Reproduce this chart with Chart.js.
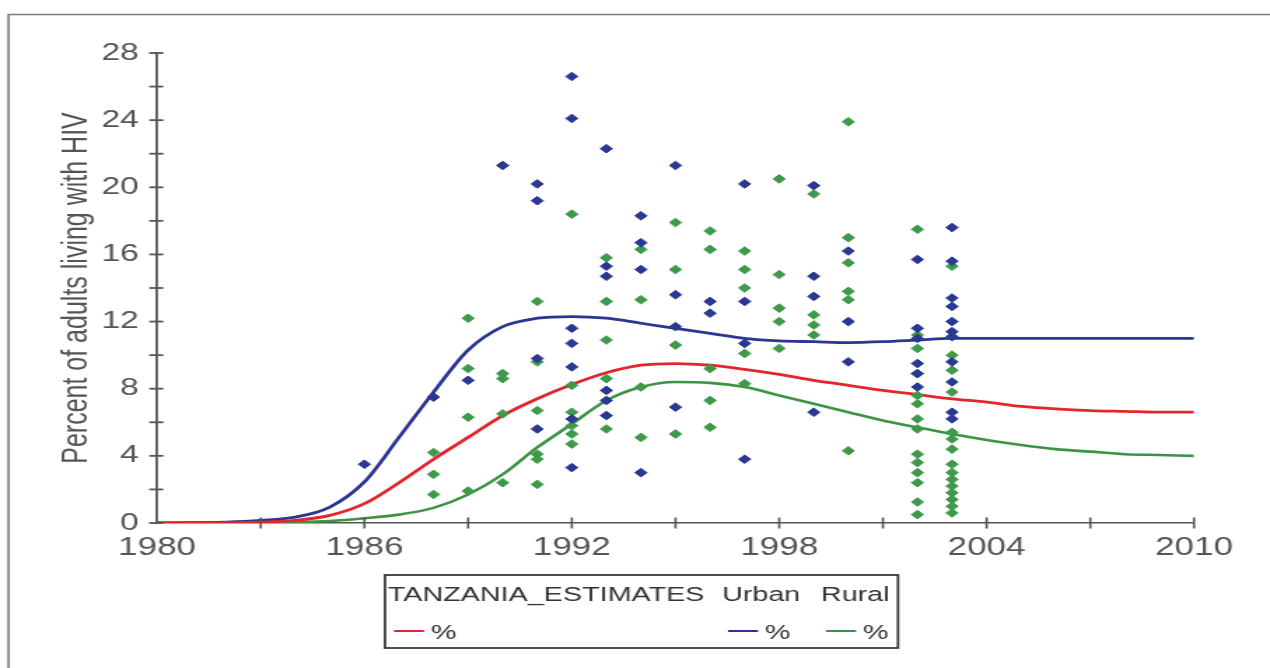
<!DOCTYPE html>
<html>
<head>
<meta charset="utf-8">
<script src="https://cdn.jsdelivr.net/npm/chart.js@4.4.1/dist/chart.umd.min.js"></script>
<style>
html,body{margin:0;padding:0;background:#fff;overflow:hidden}
canvas{display:block}
</style>
</head>
<body>
<canvas id="c" width="907" height="668" style="width:1270px;height:668px"></canvas>
<script>
// ---------- DATA ----------
const curveYears = [1980,1981,1982,1983,1984,1985,1986,1987,1988,1989,1990,1991,1992,1993,1994,1995,1996,1997,1998,1999,2000,2001,2002,2003,2004,2005,2006,2007,2008,2009,2010];
const estimatePct = [0,0,0.02,0.05,0.15,0.45,1.15,2.4,3.8,5.1,6.4,7.4,8.25,8.95,9.4,9.5,9.4,9.15,8.85,8.5,8.2,7.9,7.65,7.4,7.2,6.95,6.8,6.7,6.65,6.6,6.6];
const urbanPct    = [0,0.02,0.05,0.15,0.35,0.95,2.45,5.1,7.8,10.3,11.7,12.2,12.3,12.2,11.9,11.6,11.3,11.0,10.85,10.8,10.75,10.8,10.9,11.0,11.0,11.0,11.0,11.0,11.0,11.0,11.0];
const ruralPct    = [0,0,0,0.02,0.05,0.12,0.28,0.5,0.9,1.7,2.9,4.5,5.9,7.3,8.1,8.4,8.35,8.1,7.6,7.1,6.6,6.1,5.7,5.3,4.95,4.65,4.4,4.25,4.1,4.05,4.0];

const urbanObsYears = [1986,1988,1989,1990,1991,1992,1993,1994,1995,1996,1997,1999,2000,2002,2003];
const urbanObsPct = [
  [3.5],
  [7.5],
  [8.5],
  [21.3],
  [20.2,19.2,9.8,5.6],
  [26.6,24.1,11.6,10.7,9.3,6.2,3.3],
  [22.3,15.3,14.7,7.9,7.3,6.4],
  [18.3,16.7,15.1,3.0],
  [21.3,13.6,11.7,6.9],
  [13.2,12.5],
  [20.2,13.2,10.7,3.8],
  [20.1,14.7,13.5,6.6],
  [16.2,12.0,9.6],
  [15.7,11.6,11.0,9.5,8.9,8.1],
  [17.6,15.6,13.4,12.9,12.0,11.4,11.1,9.6,8.4,6.6,6.2]
];
const ruralObsYears = [1988,1989,1990,1991,1992,1993,1994,1995,1996,1997,1998,1999,2000,2002,2003];
const ruralObsPct = [
  [4.2,2.9,1.7],
  [12.2,9.2,6.3,1.9],
  [8.9,8.6,6.5,2.4],
  [13.2,9.6,6.7,4.1,3.8,2.3],
  [18.4,8.2,6.6,5.8,5.3,4.7],
  [15.8,13.2,10.9,8.6,5.6],
  [16.3,13.3,8.1,5.1],
  [17.9,15.1,10.6,5.3],
  [17.4,16.3,9.2,7.3,5.7],
  [16.2,15.1,14.0,10.1,8.3],
  [20.5,14.8,12.8,12.0,10.4],
  [19.6,12.4,11.8,11.2],
  [23.9,17.0,15.5,13.8,13.3,4.3],
  [17.5,11.2,10.4,8.9,7.6,7.1,6.2,5.6,4.1,3.6,3.0,2.4,1.25,0.5],
  [15.3,10.0,9.1,7.8,5.4,5.0,4.4,3.5,3.0,2.6,2.2,1.8,1.4,1.0,0.6]
];

const seriesNames = ['TANZANIA_ESTIMATES','Urban','Rural'];
const unitLabel = '%';
const yAxisTitle = 'Percent of adults living with HIV';
const xTickMin = 1980, xTickMax = 2010;
const yTickMin = 0, yTickMax = 28;

// ---------- STYLE ----------
const STRETCH = 1270 / 907;
const RED = '#e3262c', BLUE = '#2b3692', GREEN = '#3c9443';
const BLUE_PT = '#2a3793', GREEN_PT = '#3e9a4a';
const AXIS_COLOR = '#555';
const TEXT_COLOR = '#555';
const FONT = '"Liberation Sans", Arial, sans-serif';

function toPoints(years, groups){
  const out = [];
  years.forEach((yr, i) => groups[i].forEach(v => out.push({x: yr, y: v})));
  return out;
}
function toCurve(years, vals){ return years.map((yr, i) => ({x: yr, y: vals[i]})); }

const framePlugin = {
  id: 'framePlugin',
  beforeDraw(chart){
    const ctx = chart.ctx;
    ctx.save();
    ctx.fillStyle = '#fff';
    ctx.fillRect(0, 0, chart.width, chart.height);
    ctx.strokeStyle = '#7a7a7a';
    ctx.lineWidth = 1.6;
    ctx.beginPath();
    ctx.moveTo(8.5 / STRETCH, chart.height + 5);
    ctx.lineTo(8.5 / STRETCH, 14.5);
    ctx.lineTo(chart.width + 5, 14.5);
    ctx.stroke();
    ctx.restore();
  },
  afterDraw(chart){
    const ctx = chart.ctx;
    const xs = chart.scales.x, ys = chart.scales.y;
    ctx.save();
    ctx.strokeStyle = AXIS_COLOR;
    ctx.lineWidth = 1.8;
    ys.ticks.forEach(t => {
      const py = ys.getPixelForValue(t.value);
      ctx.beginPath();
      ctx.moveTo(ys.right - 5.5, py);
      ctx.lineTo(ys.right + 4.5, py);
      ctx.stroke();
    });
    ctx.lineWidth = 1.6;
    xs.ticks.forEach(t => {
      if (t.value === xTickMin) return;
      const px = xs.getPixelForValue(t.value);
      ctx.beginPath();
      ctx.moveTo(px, xs.top - 5.5);
      ctx.lineTo(px, xs.top + 5.5);
      ctx.stroke();
    });
    ctx.restore();

    // legend box
    const lineSets = [chart.data.datasets[2], chart.data.datasets[3], chart.data.datasets[4]];
    const headerX = [388, 722, 821];
    const sampleX = [394, 728, 826];
    ctx.save();
    ctx.strokeStyle = '#3a3a3a';
    ctx.lineWidth = 1.8;
    ctx.strokeRect(385 / STRETCH, 575, (898 - 385) / STRETCH, 73);
    ctx.font = '20.5px ' + FONT;
    ctx.fillStyle = '#333';
    ctx.textBaseline = 'alphabetic';
    ctx.textAlign = 'left';
    seriesNames.forEach((name, i) => {
      ctx.fillText(name, headerX[i] / STRETCH, 601);
      ctx.strokeStyle = lineSets[i].borderColor;
      ctx.lineWidth = 2;
      ctx.beginPath();
      ctx.moveTo(sampleX[i] / STRETCH, 631);
      ctx.lineTo((sampleX[i] + 30) / STRETCH, 631);
      ctx.stroke();
      ctx.fillText(unitLabel, (sampleX[i] + 37) / STRETCH, 639);
    });
    ctx.restore();
  }
};

const chart = new Chart(document.getElementById('c'), {
  type: 'scatter',
  data: {
    datasets: [
      { label: seriesNames[1] + ' observed', data: toPoints(urbanObsYears, urbanObsPct),
        pointStyle: 'rectRot', pointRadius: 4.3, backgroundColor: BLUE_PT, borderColor: BLUE_PT, borderWidth: 1, showLine: false },
      { label: seriesNames[2] + ' observed', data: toPoints(ruralObsYears, ruralObsPct),
        pointStyle: 'rectRot', pointRadius: 4.3, backgroundColor: GREEN_PT, borderColor: GREEN_PT, borderWidth: 1, showLine: false },
      { label: seriesNames[0], data: toCurve(curveYears, estimatePct), showLine: true, pointRadius: 0,
        borderColor: RED, backgroundColor: RED, borderWidth: 2.8, cubicInterpolationMode: 'monotone', fill: false },
      { label: seriesNames[1], data: toCurve(curveYears, urbanPct), showLine: true, pointRadius: 0,
        borderColor: BLUE, backgroundColor: BLUE, borderWidth: 2.8, cubicInterpolationMode: 'monotone', fill: false },
      { label: seriesNames[2], data: toCurve(curveYears, ruralPct), showLine: true, pointRadius: 0,
        borderColor: GREEN, backgroundColor: GREEN, borderWidth: 2.6, cubicInterpolationMode: 'monotone', fill: false }
    ]
  },
  options: {
    responsive: false,
    animation: false,
    events: [],
    layout: { padding: { left: 10, right: 907 - 1194 / STRETCH, top: 53, bottom: 668 - 523 - 40 } },
    plugins: { legend: { display: false }, tooltip: { enabled: false } },
    scales: {
      x: {
        type: 'linear', min: xTickMin, max: xTickMax,
        grid: { display: true, drawOnChartArea: false, drawTicks: false },
        border: { display: true, color: AXIS_COLOR, width: 1.6 },
        ticks: { stepSize: 3, autoSkip: false, maxRotation: 0, padding: 10, color: TEXT_COLOR,
          font: { size: 25, family: FONT },
          callback: v => ((v - xTickMin) % 6 === 0 ? String(v) : '') },
        afterFit: s => { s.height = 40; }
      },
      y: {
        min: yTickMin, max: yTickMax,
        grid: { display: true, drawOnChartArea: false, drawTicks: false },
        border: { display: true, color: AXIS_COLOR, width: 1.8 },
        ticks: { stepSize: 2, autoSkip: false, padding: 13, color: TEXT_COLOR,
          font: { size: 24, family: FONT },
          callback: v => (v % 4 === 0 ? String(v) : '') },
        title: { display: true, text: yAxisTitle, color: TEXT_COLOR,
          font: { size: 25, family: FONT }, padding: { top: 30, bottom: 0 } },
        afterFit: s => { s.width = 157 / STRETCH - 10; }
      }
    }
  },
  plugins: [framePlugin]
});
</script>
</body>
</html>
